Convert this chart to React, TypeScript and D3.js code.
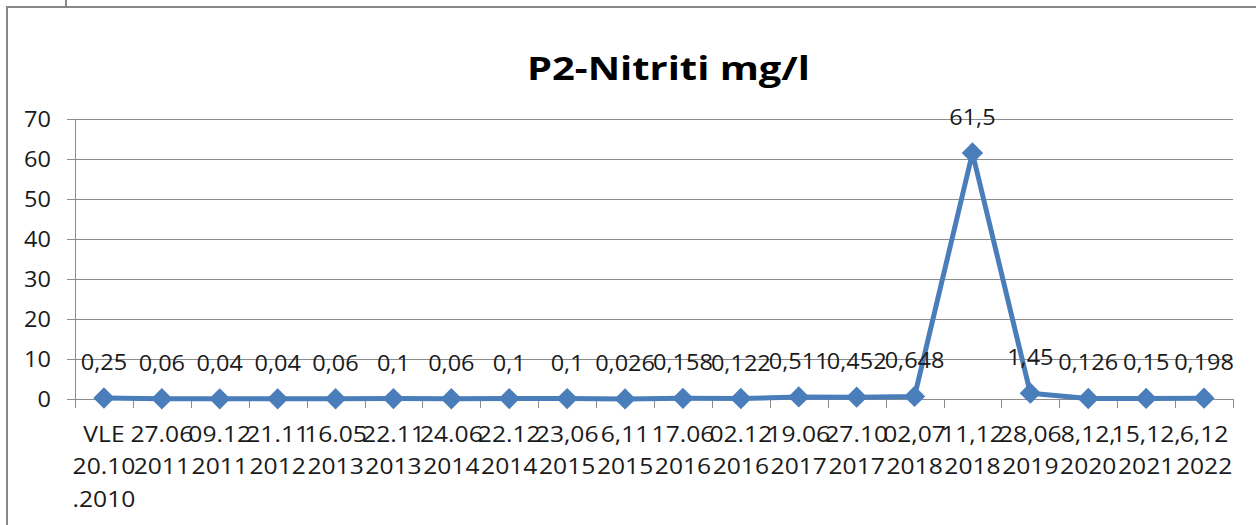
import React, { useEffect, useRef } from 'react';
import * as d3 from 'd3';

// dates of the samples (wrapped on spaces, like the original axis)
const categories = [
  'VLE 20.10 .2010', '27.06 2011', '09.12 2011', '21.11 2012', '16.05 2013',
  '22.11 2013', '24.06 2014', '22.12 2014', '23,06 2015', '6,11 2015',
  '17.06 2016', '02.12 2016', '19.06 2017', '27.10 2017', '02,07 2018',
  '11,12 2018', '28,06 2019', '8,12, 2020', '15,12, 2021', '6,12 2022',
];

const values = [
  0.25, 0.06, 0.04, 0.04, 0.06, 0.1, 0.06, 0.1, 0.1, 0.026,
  0.158, 0.122, 0.511, 0.452, 0.648, 61.5, 1.45, 0.126, 0.15, 0.198,
];

const yTicks = [0, 10, 20, 30, 40, 50, 60, 70];

const title = 'P2-Nitriti mg/l';

const App = () => {
  const svgRef = useRef<SVGSVGElement | null>(null);
  const width = 1256;
  const height = 525;

  useEffect(() => {
    if (!svgRef.current) return;
    const svg = d3.select(svgRef.current);
    svg.selectAll('*').remove();

    const font = '"Open Sans", "Liberation Sans", sans-serif';
    const gridColor = '#8c8c8c';
    const blue = '#4a7ebb';

    const x = d3.scaleBand<number>()
      .domain(values.map((_, i) => i))
      .range([75, 1233]);
    const y = d3.scaleLinear().domain([0, 70]).range([399, 119]);

    // outer frame (only left + top visible in the crop)
    svg.append('path')
      .attr('d', `M7,${height} L7,7 L${width},7`)
      .attr('fill', 'none')
      .attr('stroke', '#878787')
      .attr('stroke-width', 2);
    svg.append('line')
      .attr('x1', 66).attr('x2', 66).attr('y1', 0).attr('y2', 7)
      .attr('stroke', '#878787').attr('stroke-width', 2);

    // title
    svg.append('text')
      .attr('x', 527)
      .attr('y', 80)
      .attr('textLength', 283)
      .attr('lengthAdjust', 'spacingAndGlyphs')
      .style('font-family', font)
      .style('font-weight', 700)
      .style('font-size', '32px')
      .attr('fill', '#000')
      .text(title);

    // horizontal gridlines + y ticks
    const yg = svg.append('g');
    yTicks.forEach(t => {
      yg.append('line')
        .attr('x1', 67).attr('x2', 1233)
        .attr('y1', y(t) + 0.5).attr('y2', y(t) + 0.5)
        .attr('stroke', gridColor).attr('stroke-width', 1);
      yg.append('text')
        .attr('transform', `translate(51,${y(t) + 7.5}) scale(1.12,1)`)
        .attr('text-anchor', 'end')
        .style('font-family', font)
        .style('font-size', '21px')
        .attr('fill', '#1a1a1a')
        .text(t);
    });

    // y axis line
    svg.append('line')
      .attr('x1', 75.5).attr('x2', 75.5)
      .attr('y1', y(70)).attr('y2', y(0))
      .attr('stroke', gridColor).attr('stroke-width', 1);

    // category tick marks
    const bw = x.bandwidth();
    d3.range(values.length + 1).forEach(i => {
      const px = Math.round(75 + i * bw) + 0.5;
      svg.append('line')
        .attr('x1', px).attr('x2', px)
        .attr('y1', y(0)).attr('y2', y(0) + 9)
        .attr('stroke', gridColor).attr('stroke-width', 1);
    });

    // category labels
    const cx = (i: number) => (x(i) ?? 0) + bw / 2;
    categories.forEach((c, i) => {
      const t = svg.append('text')
        .attr('transform', `translate(${cx(i)},0) scale(1.12,1)`)
        .attr('text-anchor', 'middle')
        .style('font-family', font)
        .style('font-size', '22px')
        .attr('fill', '#1a1a1a');
      c.split(' ').forEach((part, k) => {
        t.append('tspan')
          .attr('x', 0)
          .attr('y', 442 + k * 32.5)
          .text(part);
      });
    });

    // series line
    const line = d3.line<number>()
      .x((_, i) => cx(i))
      .y(d => y(d));
    svg.append('path')
      .datum(values)
      .attr('d', line)
      .attr('fill', 'none')
      .attr('stroke', blue)
      .attr('stroke-width', 5)
      .attr('stroke-linejoin', 'round');

    // diamond markers
    const diamond = d3.symbol().type(d3.symbolDiamond2).size(290);
    svg.append('g')
      .selectAll('path')
      .data(values)
      .enter()
      .append('path')
      .attr('transform', (d, i) => `translate(${cx(i)},${y(d)})`)
      .attr('d', diamond)
      .attr('fill', blue);

    // data labels
    svg.append('g')
      .selectAll('text')
      .data(values)
      .enter()
      .append('text')
      .attr('transform', (d, i) => `translate(${cx(i)},${y(d) - 28}) scale(1.12,1)`)
      .attr('text-anchor', 'middle')
      .style('font-family', font)
      .style('font-size', '21px')
      .attr('fill', '#1a1a1a')
      .text(d => String(d).replace('.', ','));
  }, []);

  return (
    <svg
      ref={svgRef}
      width={width}
      height={height}
      style={{ position: 'absolute', left: 0, top: 0, background: '#fff' }}
    />
  );
};

export default App;
